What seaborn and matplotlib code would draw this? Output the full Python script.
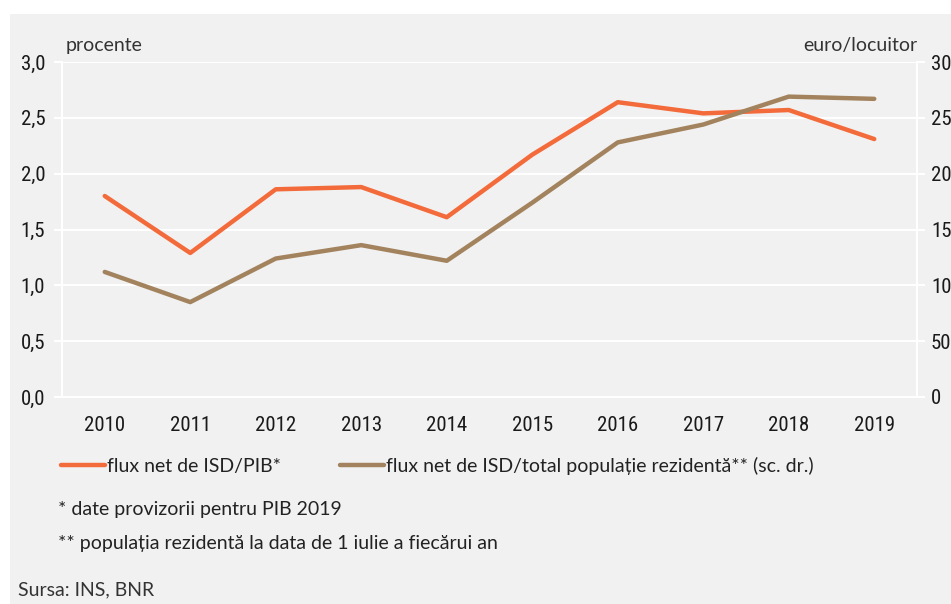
import pandas as pd
import matplotlib.pyplot as plt
import seaborn as sns
from matplotlib import font_manager
from matplotlib.patches import Rectangle
from matplotlib.ticker import FixedLocator, FuncFormatter

names = {f.name for f in font_manager.fontManager.ttflist}

def pick(options):
    for o in options:
        if o in names:
            return o
    return 'DejaVu Sans'

txt_font = pick(['Lato', 'Open Sans', 'Noto Sans'])
tick_font = pick(['Roboto Condensed', 'Liberation Sans Narrow', 'Open Sans Condensed', 'Lato'])

sns.set_theme(style='white')
plt.rcParams['font.family'] = [txt_font, 'DejaVu Sans']

years = ['2010', '2011', '2012', '2013', '2014', '2015', '2016', '2017', '2018', '2019']
isd_pib = [1.80, 1.29, 1.86, 1.88, 1.61, 2.17, 2.64, 2.54, 2.57, 2.31]
isd_loc = [112, 85, 124, 136, 122, 174, 228, 244, 269, 267]

label_pib = 'flux net de ISD/PIB*'
label_loc = 'flux net de ISD/total populație rezidentă** (sc. dr.)'

orange = '#f36b3b'
brown = '#a3835e'
bg = '#f1f1f1'

df = pd.DataFrame({'an': years, 'pib': isd_pib, 'loc': isd_loc})
df['x'] = range(len(years))

fig = plt.figure(figsize=(9.51, 6.04), dpi=100)
fig.patch.set_facecolor('white')
fig.patches.append(Rectangle((10 / 951, 0), 1, 1 - 14 / 604, transform=fig.transFigure,
                             facecolor=bg, edgecolor='none', zorder=-10))

ax = fig.add_axes([62 / 951, 1 - 397 / 604, (917 - 62) / 951, (397 - 62) / 604])
ax2 = ax.twinx()
ax.set_facecolor(bg)

sns.lineplot(data=df, x='x', y='pib', ax=ax, color=orange, linewidth=3.2,
             solid_capstyle='round', label=label_pib, legend=False)
sns.lineplot(data=df, x='x', y='loc', ax=ax2, color=brown, linewidth=3.2,
             solid_capstyle='round', label=label_loc, legend=False)

ax.set_xlim(-0.5, len(years) - 0.5)
ax.set_ylim(0, 3.0)
ax2.set_ylim(0, 300)
ax.set_yticks([0, 0.5, 1.0, 1.5, 2.0, 2.5, 3.0])
ax.yaxis.set_major_formatter(FuncFormatter(lambda v, p: f'{v:.1f}'.replace('.', ',')))
ax2.set_yticks(range(0, 301, 50))

ax.set_xticks(range(len(years)))
ax.set_xticklabels(years)
ax.xaxis.set_minor_locator(FixedLocator([i - 0.5 for i in range(len(years) + 1)]))
ax.tick_params(axis='x', which='major', length=0, pad=14)
ax.tick_params(axis='x', which='minor', length=6, width=1.5, color='white')
ax.tick_params(axis='y', length=6, width=1.5, color='white', pad=6)
ax2.tick_params(axis='y', length=6, width=1.5, color='white', pad=4)
for lab in ax.get_xticklabels() + ax.get_yticklabels() + ax2.get_yticklabels():
    lab.set_fontfamily([tick_font, 'DejaVu Sans'])
    lab.set_fontsize(15)
    lab.set_color('#1a1a1a')

ax.grid(axis='y', color='white', linewidth=1.5)
ax.set_xlabel('')
ax.set_ylabel('')
ax2.set_ylabel('')
for a in (ax, ax2):
    a.spines['top'].set_visible(False)
    for s in ('left', 'right', 'bottom'):
        a.spines[s].set_color('white')
        a.spines[s].set_linewidth(1.5)

fig.text(66 / 951, 1 - 45 / 604, 'procente', fontsize=14, color='#333333', va='center')
fig.text(917 / 951, 1 - 45 / 604, 'euro/locuitor', fontsize=14, color='#333333', va='center', ha='right')

h1, l1 = ax.get_legend_handles_labels()
h2, l2 = ax2.get_legend_handles_labels()
fig.legend(h1 + h2, l1 + l2, loc='center left', bbox_to_anchor=(43 / 951, 1 - 466 / 604),
           ncol=2, frameon=False, fontsize=14, handlelength=2.3, handletextpad=0.1,
           columnspacing=3.0, labelcolor='#222222')

fig.text(58 / 951, 1 - 510 / 604, '* date provizorii pentru PIB 2019', fontsize=14, color='#222222', va='center')
fig.text(58 / 951, 1 - 543 / 604, '** populația rezidentă la data de 1 iulie a fiecărui an', fontsize=14,
         color='#222222', va='center')
fig.text(18 / 951, 1 - 590 / 604, 'Sursa: INS, BNR', fontsize=14, color='#333333', va='center')

fig.savefig('out.png', dpi=100, facecolor=fig.get_facecolor())
